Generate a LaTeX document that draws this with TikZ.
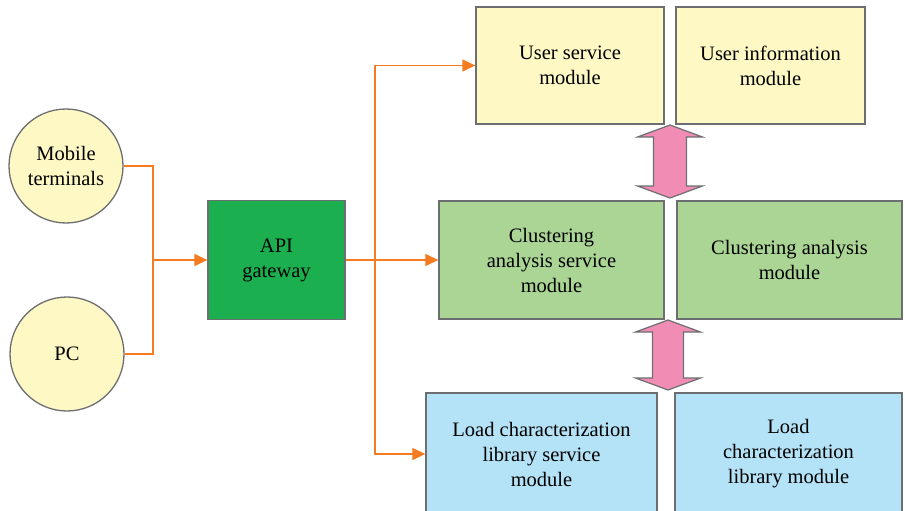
\documentclass[tikz,border=0pt]{standalone}
\usepackage{fontspec}
\setmainfont{Liberation Serif}
\usetikzlibrary{arrows.meta}

\definecolor{paleyellow}{HTML}{FDF8C4}
\definecolor{gatewaygreen}{HTML}{1BAF4F}
\definecolor{palegreen}{HTML}{ABD595}
\definecolor{paleblue}{HTML}{B4E2F6}
\definecolor{linkorange}{HTML}{F47B20}
\definecolor{edgegray}{HTML}{6D6E71}
\definecolor{swappink}{HTML}{F18DB5}

\begin{document}
\begin{tikzpicture}[x=1pt, y=-1pt,
		every node/.style={font=\fontsize{20.5}{25}\selectfont, align=center, inner sep=0pt},
		client/.style={circle, draw=edgegray, line width=1.3pt, fill=paleyellow, minimum size=114pt},
		module/.style={rectangle, draw=edgegray, line width=1.3pt, minimum height=117pt},
		feed/.style={draw=linkorange, line width=1.3pt},
		go/.style={feed, -{Triangle[length=13pt, width=12pt]}},
		swap/.style={draw=edgegray, line width=1.2pt, fill=swappink}
		]
	\useasboundingbox (0,0) rectangle (905,511);

	% clients and gateway
	\node [client] (mob) at (66,166) {Mobile\\terminals};
	\node [client] (pc) at (67,354) {PC};
	\node [module, fill=gatewaygreen, minimum width=137pt, minimum height=119pt] (api) at (276.5,260) {API\\gateway};

	% service modules
	\node [module, fill=paleyellow, minimum width=188pt] (us) at (570,65.5) {User service\\module};
	\node [module, fill=paleyellow, minimum width=189pt] (ui) at (770.5,65.5) {User information\\module};
	\node [module, fill=palegreen, minimum width=225pt, minimum height=118pt] (cs) at (551.5,260) {Clustering\\analysis service\\module};
	\node [module, fill=palegreen, minimum width=225pt, minimum height=118pt] (ca) at (789.5,260) {Clustering analysis\\module};
	\node [module, fill=paleblue, minimum width=231pt, minimum height=122pt] (ls) at (541.5,454) {Load characterization\\library service\\module};
	\node [module, fill=paleblue, minimum width=227pt, minimum height=122pt] (lc) at (788.5,454) {Load\\characterization\\library module};

	% connectors
	\coordinate (j) at (153,260);
	\coordinate (k) at (375,260);
	\draw [feed] (mob.east) -| (j);
	\draw [feed] (pc.east) -| (j);
	\draw [go] (j) -- (api.west);
	\draw [go] (api.east) -- (cs.west);
	\draw [go] (k) |- (us.west);
	\draw [go] (k) |- (ls.west);

	% two-way arrows
	\draw [swap] (670,125) -- ++(32.5,12) -- ++(-16,0) -- ++(0,49) -- ++(16,0)
		-- ++(-32.5,12) -- ++(-32.5,-12) -- ++(16,0) -- ++(0,-49) -- ++(-16,0) -- cycle;
	\draw [swap] (668,320) -- ++(32.5,12) -- ++(-17,0) -- ++(0,46) -- ++(17,0)
		-- ++(-32.5,12) -- ++(-32.5,-12) -- ++(17,0) -- ++(0,-46) -- ++(-17,0) -- cycle;
\end{tikzpicture}
\end{document}
